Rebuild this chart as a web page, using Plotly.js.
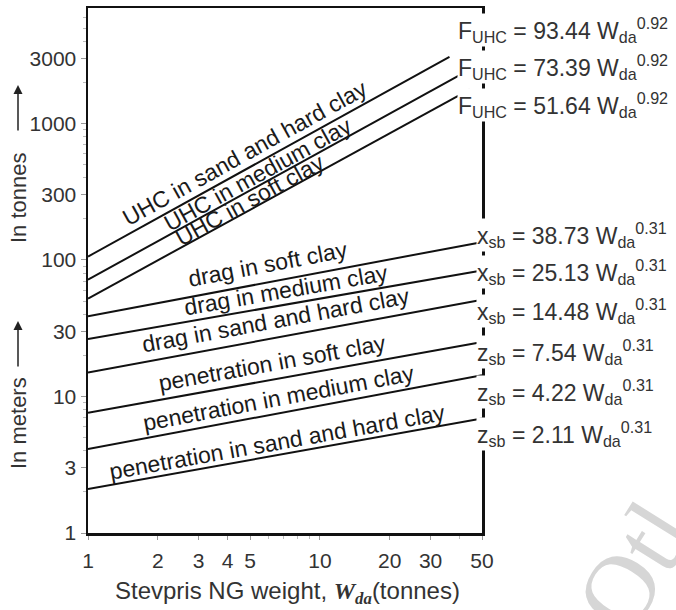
<!DOCTYPE html>
<html><head><meta charset="utf-8">
<script src="https://cdn.plot.ly/plotly-3.0.1.min.js"></script>
<style>html,body{margin:0;padding:0;background:#fff}</style>
</head><body><div id="chart" style="width:676px;height:610px"></div>
<script>
// ---- data ----
const seriesNames = [
  "UHC in sand and hard clay", "UHC in medium clay", "UHC in soft clay",
  "drag in soft clay", "drag in medium clay", "drag in sand and hard clay",
  "penetration in soft clay", "penetration in medium clay", "penetration in sand and hard clay"
];
const weightStart = [1, 1, 1, 1, 1, 1, 1, 1, 1];
const weightEnd   = [36.2, 39.7, 44.2, 47.8, 47.8, 48.8, 48.8, 50, 50];
const valueStart  = [106, 71.8, 52.2, 38.7, 26.4, 15.0, 7.59, 4.13, 2.10];
const valueEnd    = [3076, 2244, 1772, 133.4, 82.6, 50.7, 24.9, 14.3, 6.89];
const equations = [
  "F<sub>UHC</sub> = 93.44 W<sub>da</sub><sup>0.92</sup>",
  "F<sub>UHC</sub> = 73.39 W<sub>da</sub><sup>0.92</sup>",
  "F<sub>UHC</sub> = 51.64 W<sub>da</sub><sup>0.92</sup>",
  "x<sub>sb</sub> = 38.73 W<sub>da</sub><sup>0.31</sup>",
  "x<sub>sb</sub> = 25.13 W<sub>da</sub><sup>0.31</sup>",
  "x<sub>sb</sub> = 14.48 W<sub>da</sub><sup>0.31</sup>",
  "z<sub>sb</sub> = 7.54 W<sub>da</sub><sup>0.31</sup>",
  "z<sub>sb</sub> = 4.22 W<sub>da</sub><sup>0.31</sup>",
  "z<sub>sb</sub> = 2.11 W<sub>da</sub><sup>0.31</sup>"
];
const xTickVals = [1, 2, 3, 4, 5, 10, 20, 30, 50];
const xTickText = ["1", "2", "3", "4", "5", "10", "20", "30", "50"];
const yTickVals = [1, 3, 10, 30, 100, 300, 1000, 3000];
const yTickText = ["1", "3", "10", "30", "100", "300", "1000", "3000"];
const xMinor = [6, 7, 8, 9, 40];
const yMinor = [2, 4, 5, 6, 7, 8, 9, 20, 40, 50, 60, 70, 80, 90, 200, 400, 500, 600, 700, 800, 900, 2000, 4000, 5000, 6000];

// ---- layout geometry ----
const W = 676, H = 610;
const M = {l: 88, r: 194, t: 8, b: 77};
const pw = W - M.l - M.r, ph = H - M.t - M.b;
const xRange = [0, Math.log10(50)];
const yRange = [0, 3.846];
const pxPerDecX = pw / (xRange[1] - xRange[0]);
const pxPerDecY = ph / (yRange[1] - yRange[0]);
const font = "Liberation Sans, Arial, sans-serif";

// label placement (x position along line in data units, perpendicular offset in px)
const labelAt = [5.1, 5.7, 5.2, 6.2, 7.3, 6.7, 6.4, 6.8, 6.7];
const labelOff = [15, 10, 9, 18, 14, 17, 16, 15, 13];
// equation rows (pixel centres)
const eqLeft = [457, 457, 457, 476, 476, 476, 476, 476, 476];
const eqY = [30, 67, 105, 235, 272, 311, 352, 392, 434];

const traces = seriesNames.map((n, i) => ({
  type: "scatter", mode: "lines", name: n,
  x: [weightStart[i], weightEnd[i]],
  y: [valueStart[i], valueEnd[i]],
  line: {color: "#111", width: 2},
  hoverinfo: "skip", showlegend: false
}));

const annotations = [];
// faint watermark (drawn first so it sits beneath)
annotations.push({
  xref: "paper", yref: "paper", x: (634 - M.l) / pw, y: (H - M.b - 566) / ph,
  xanchor: "center", yanchor: "middle",
  showarrow: false, text: "Otl", textangle: -58,
  font: {family: "Liberation Serif, serif", size: 100, color: "#d6d6d6"}
});
seriesNames.forEach((n, i) => {
  const lx0 = Math.log10(weightStart[i]), lx1 = Math.log10(weightEnd[i]);
  const ly0 = Math.log10(valueStart[i]), ly1 = Math.log10(valueEnd[i]);
  const lx = Math.log10(labelAt[i]);
  const ly = ly0 + (ly1 - ly0) * (lx - lx0) / (lx1 - lx0);
  const ang = Math.atan(((ly1 - ly0) * pxPerDecY) / ((lx1 - lx0) * pxPerDecX));
  const d = labelOff[i];
  annotations.push({
    xref: "x", yref: "y", x: lx, y: ly, text: n, showarrow: false,
    xanchor: "center", yanchor: "middle",
    textangle: -ang * 180 / Math.PI,
    xshift: -d * Math.sin(ang), yshift: d * Math.cos(ang),
    font: {family: font, size: 23, color: "#1a1a1a"}
  });
});
equations.forEach((t, i) => {
  annotations.push({
    xref: "paper", yref: "paper",
    x: (eqLeft[i] - M.l) / pw, y: (H - M.b - eqY[i]) / ph,
    xanchor: "left", yanchor: "middle", text: t, showarrow: false,
    bgcolor: "#fff", borderpad: 0,
    font: {family: font, size: 23, color: "#333"}
  });
});
// axis titles
annotations.push({
  xref: "paper", yref: "paper", x: (287 - M.l) / pw, y: (H - M.b - 592) / ph,
  xanchor: "center", yanchor: "middle", showarrow: false,
  text: 'Stevpris NG weight, <span style="font-family:Liberation Serif, Times New Roman, serif"><b><i>W<sub>da</sub></i></b></span>(tonnes)',
  font: {family: font, size: 24, color: "#333"}
});
[["In tonnes", 198, 85], ["In meters", 423, 321]].forEach(([t, cy, tip]) => {
  annotations.push({
    xref: "paper", yref: "paper", x: (18 - M.l) / pw, y: (H - M.b - cy) / ph,
    xanchor: "center", yanchor: "middle", showarrow: false, textangle: -90,
    text: t, font: {family: font, size: 22, color: "#333"}
  });
  annotations.push({
    xref: "paper", yref: "paper", x: (18 - M.l) / pw, y: (H - M.b - tip) / ph,
    showarrow: true, ax: 0, ay: 47, text: "", arrowhead: 2, arrowsize: 1.2,
    arrowwidth: 1.5, arrowcolor: "#222", standoff: 0
  });
});

const layout = {
  width: W, height: H, margin: M,
  paper_bgcolor: "#fff", plot_bgcolor: "#fff",
  xaxis: {
    type: "log", range: xRange, showgrid: false, zeroline: false,
    showline: true, linecolor: "#111", linewidth: 2.5, mirror: true,
    tickmode: "array", tickvals: xTickVals, ticktext: xTickText,
    ticks: "outside", ticklen: 4, tickwidth: 1, tickcolor: "#999",
    ticklabelstandoff: 3,
    tickfont: {family: font, size: 21, color: "#333"},
    minor: {tickmode: "array", tickvals: xMinor, ticks: "outside", ticklen: 3, tickcolor: "#bbb", showgrid: false},
    fixedrange: true
  },
  yaxis: {
    type: "log", range: yRange, showgrid: false, zeroline: false,
    showline: true, linecolor: "#111", linewidth: 2.5, mirror: true,
    tickmode: "array", tickvals: yTickVals, ticktext: yTickText,
    ticks: "outside", ticklen: 5, tickwidth: 1, tickcolor: "#999",
    tickfont: {family: font, size: 21, color: "#333"},
    minor: {tickmode: "array", tickvals: yMinor, ticks: "outside", ticklen: 3, tickcolor: "#bbb", showgrid: false},
    fixedrange: true
  },
  annotations: annotations,
  showlegend: false
};
Plotly.newPlot("chart", traces, layout, {displayModeBar: false, staticPlot: true});
</script></body></html>
